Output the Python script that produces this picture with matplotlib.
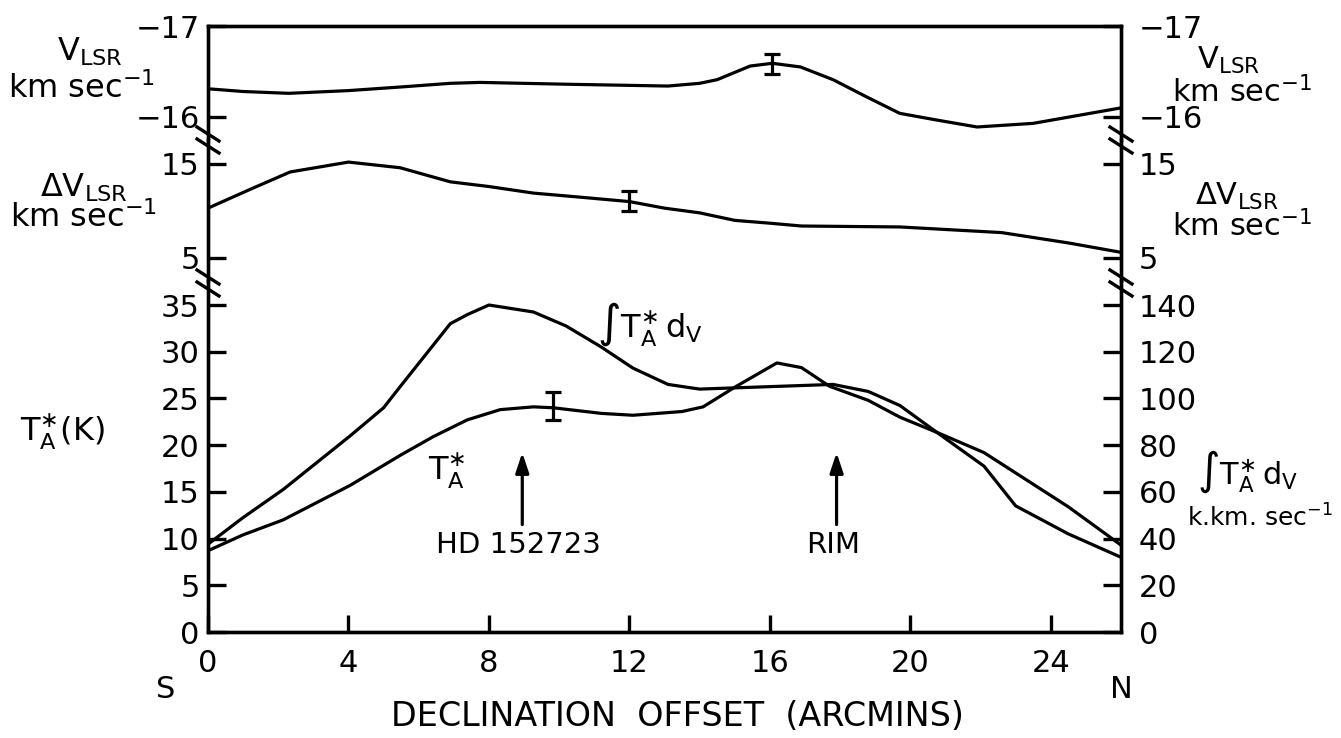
import matplotlib.pyplot as plt
from matplotlib.lines import Line2D

plt.rcParams['mathtext.default'] = 'regular'
plt.rcParams['font.family'] = ['DejaVu Sans']

# ------------------------------------------------------------------
# Data
# ------------------------------------------------------------------
# top panel: V_LSR (km/s)
x_vlsr = [0, 1, 2.3, 4, 5.5, 6.9, 7.75, 10.2, 13.1, 14.0, 14.5, 15.0, 15.44,
          16.07, 16.87, 17.8, 18.76, 19.7, 20.7, 21.9, 23.5, 26]
vlsr = [-16.31, -16.28, -16.26, -16.29, -16.33, -16.37, -16.38, -16.36, -16.34,
        -16.37, -16.41, -16.49, -16.56, -16.59, -16.55, -16.41, -16.22, -16.04,
        -15.97, -15.89, -15.93, -16.10]

# middle panel: Delta V_LSR (km/s)
x_dv = [0, 1.2, 2.34, 4.0, 5.47, 6.9, 8.0, 9.27, 10.5, 12.0, 13.0, 14.0, 15.0,
        16.0, 16.9, 19.7, 22.6, 24.5, 26]
dv = [10.3, 12.3, 14.15, 15.2, 14.6, 13.1, 12.6, 11.9, 11.5, 11.0, 10.3, 9.8,
      9.0, 8.7, 8.4, 8.3, 7.7, 6.6, 5.6]

# bottom panel: T_A* (K)
x_ta = [0, 1, 2.14, 4.05, 5.47, 6.41, 7.38, 8.32, 9.27, 9.83, 11.2, 12.1, 13.5,
        14.1, 15.0, 16.2, 16.9, 17.7, 18.8, 19.7, 20.8, 22.1, 23.3, 24.5, 26]
ta = [8.7, 10.4, 12.0, 15.7, 18.9, 20.9, 22.7, 23.8, 24.1, 24.0, 23.4, 23.2,
      23.6, 24.1, 26.2, 28.8, 28.3, 26.3, 24.8, 23.0, 21.3, 19.2, 16.3, 13.4, 9.3]

# bottom panel: integrated intensity (K km/s, right axis)
x_int = [0, 1, 2.14, 4.05, 5.0, 5.47, 6.9, 7.4, 8.0, 9.27, 10.2, 11.2, 12.1,
         13.1, 14.0, 15.9, 17.8, 18.8, 19.7, 20.8, 22.1, 23.0, 24.5, 26]
integ = [37.6, 49, 61, 84, 96, 105, 132, 136, 140, 137, 131, 122, 113, 106, 104,
         105, 106, 103, 97, 85, 71, 54, 42, 32]

# representative error bars (x, value, half-size)
err_vlsr = (16.05, -16.58, 0.11)
err_dv = (12.0, 11.05, 1.05)
err_ta = (9.83, 24.2, 1.5)

# positions of marked features
features = ["HD 152723", "RIM"]
feature_x = [8.95, 17.9]

x_ticks = [0, 4, 8, 12, 16, 20, 24]

# ------------------------------------------------------------------
# Figure layout
# ------------------------------------------------------------------
W_PX, H_PX = 1341, 738
fig = plt.figure(figsize=(W_PX / 100, H_PX / 100), dpi=100)

left, right = 208 / W_PX, 1121 / W_PX
width = right - left
y_top, y_b1, y_b2, y_bot = [1 - v / H_PX for v in (26, 140, 281, 632)]

ax_v = fig.add_axes([left, y_b1, width, y_top - y_b1])
ax_dv = fig.add_axes([left, y_b2, width, y_b1 - y_b2])
ax_t = fig.add_axes([left, y_bot, width, y_b2 - y_bot])

LW = 2.3
SPINE = 2.4
TICKFS = 22
LABFS = 23

ax_v.plot(x_vlsr, vlsr, color='k', lw=LW)
ax_dv.plot(x_dv, dv, color='k', lw=LW)
ax_t.plot(x_ta, ta, color='k', lw=LW)

for ax, (ex, ey, ee) in [(ax_v, err_vlsr), (ax_dv, err_dv), (ax_t, err_ta)]:
    ax.errorbar([ex], [ey], yerr=[ee], fmt='none', ecolor='k',
                elinewidth=LW, capsize=6, capthick=LW)

ax_v.set_ylim(-15.747, -17)
ax_dv.set_ylim(2.55, 17.55)
ax_t.set_ylim(0, 37.57)

ax_i = ax_t.twinx()
ax_i.plot(x_int, integ, color='k', lw=LW)
ax_i.set_ylim(0, 37.57 * 4)

twins = [ax_v.twinx(), ax_dv.twinx()]
twins[0].set_ylim(ax_v.get_ylim())
twins[1].set_ylim(ax_dv.get_ylim())

for ax in [ax_v, ax_dv, ax_t, ax_i] + twins:
    ax.set_xlim(0, 26)
    for s in ax.spines.values():
        s.set_linewidth(SPINE)

# hide inner spines so the three panels read as one frame
for ax in [ax_v, twins[0]]:
    ax.spines['bottom'].set_visible(False)
for ax in [ax_dv, twins[1]]:
    ax.spines['bottom'].set_visible(False)
    ax.spines['top'].set_visible(False)
for ax in [ax_t, ax_i]:
    ax.spines['top'].set_visible(False)

ax_v.set_yticks([-17, -16])
twins[0].set_yticks([-17, -16])
ax_dv.set_yticks([5, 15])
twins[1].set_yticks([5, 15])
ax_t.set_yticks(range(0, 36, 5))
ax_i.set_yticks(range(0, 141, 20))

for ax in [ax_v, ax_dv, ax_t]:
    ax.tick_params(axis='y', direction='in', length=13, width=SPINE,
                   labelsize=TICKFS, pad=6, left=True, right=False)
for ax in twins + [ax_i]:
    ax.tick_params(axis='y', direction='in', length=13, width=SPINE,
                   labelsize=TICKFS, pad=13)

for ax in [ax_v, ax_dv] + twins:
    ax.set_xticks([])
ax_i.set_xticks([])
ax_t.set_xticks(x_ticks)
ax_t.tick_params(axis='x', direction='in', length=12, width=SPINE,
                 labelsize=TICKFS, pad=12, top=False)

# break marks on both vertical axes
def break_marks(xp, yp):
    for dy in (-6, 6):
        xs = [(xp - 11) / W_PX, (xp + 11) / W_PX]
        ys = [1 - (yp + dy - 7) / H_PX, 1 - (yp + dy + 7) / H_PX]
        fig.add_artist(Line2D(xs, ys, color='k', lw=SPINE))

for xp in (208, 1121):
    for yp in (140, 283):
        break_marks(xp, yp)

# ------------------------------------------------------------------
# Labels
# ------------------------------------------------------------------
def ftext(xp, yp, s, size=LABFS, ha='center'):
    fig.text(xp / W_PX, 1 - yp / H_PX, s, fontsize=size, ha=ha, va='center')

ftext(90, 52, r'$V_{LSR}$')
ftext(82, 89, r'km sec$^{-1}$')
ftext(84, 188, r'$\Delta V_{LSR}$')
ftext(84, 218, r'km sec$^{-1}$')
ftext(62, 432, r'$T_A^{\ast}$(K)')

ftext(1228, 60, r'$V_{LSR}$', size=22)
ftext(1242, 92, r'km sec$^{-1}$', size=22)
ftext(1237, 196, r'$\Delta V_{LSR}$', size=22)
ftext(1242, 226, r'km sec$^{-1}$', size=22)
ftext(1248, 472, r'$\int T_A^{\ast}\,d_V$', size=22)
ftext(1333, 518, r'k.km. sec$^{-1}$', size=18, ha='right')

ftext(166, 689, 'S', size=TICKFS)
ftext(1121, 689, 'N', size=TICKFS)
ftext(677, 717, 'DECLINATION  OFFSET  (ARCMINS)', size=24)

ax_t.text(12.6, 33.0, r'$\int T_A^{\ast}\,d_V$', fontsize=LABFS,
          ha='center', va='center')
ax_t.text(6.8, 17.3, r'$T_A^{\ast}$', fontsize=LABFS, ha='center', va='center')

for name, fx in zip(features, feature_x):
    ax_t.annotate('', xy=(fx, 19.2), xytext=(fx, 11.5),
                  arrowprops=dict(arrowstyle='-|>,head_length=0.6,head_width=0.2',
                                  color='k', lw=LW, mutation_scale=20,
                                  shrinkA=0, shrinkB=0))
    ax_t.text(fx - 0.1, 9.3, name, fontsize=21, ha='center', va='center')

plt.savefig('out.png', dpi=100)
